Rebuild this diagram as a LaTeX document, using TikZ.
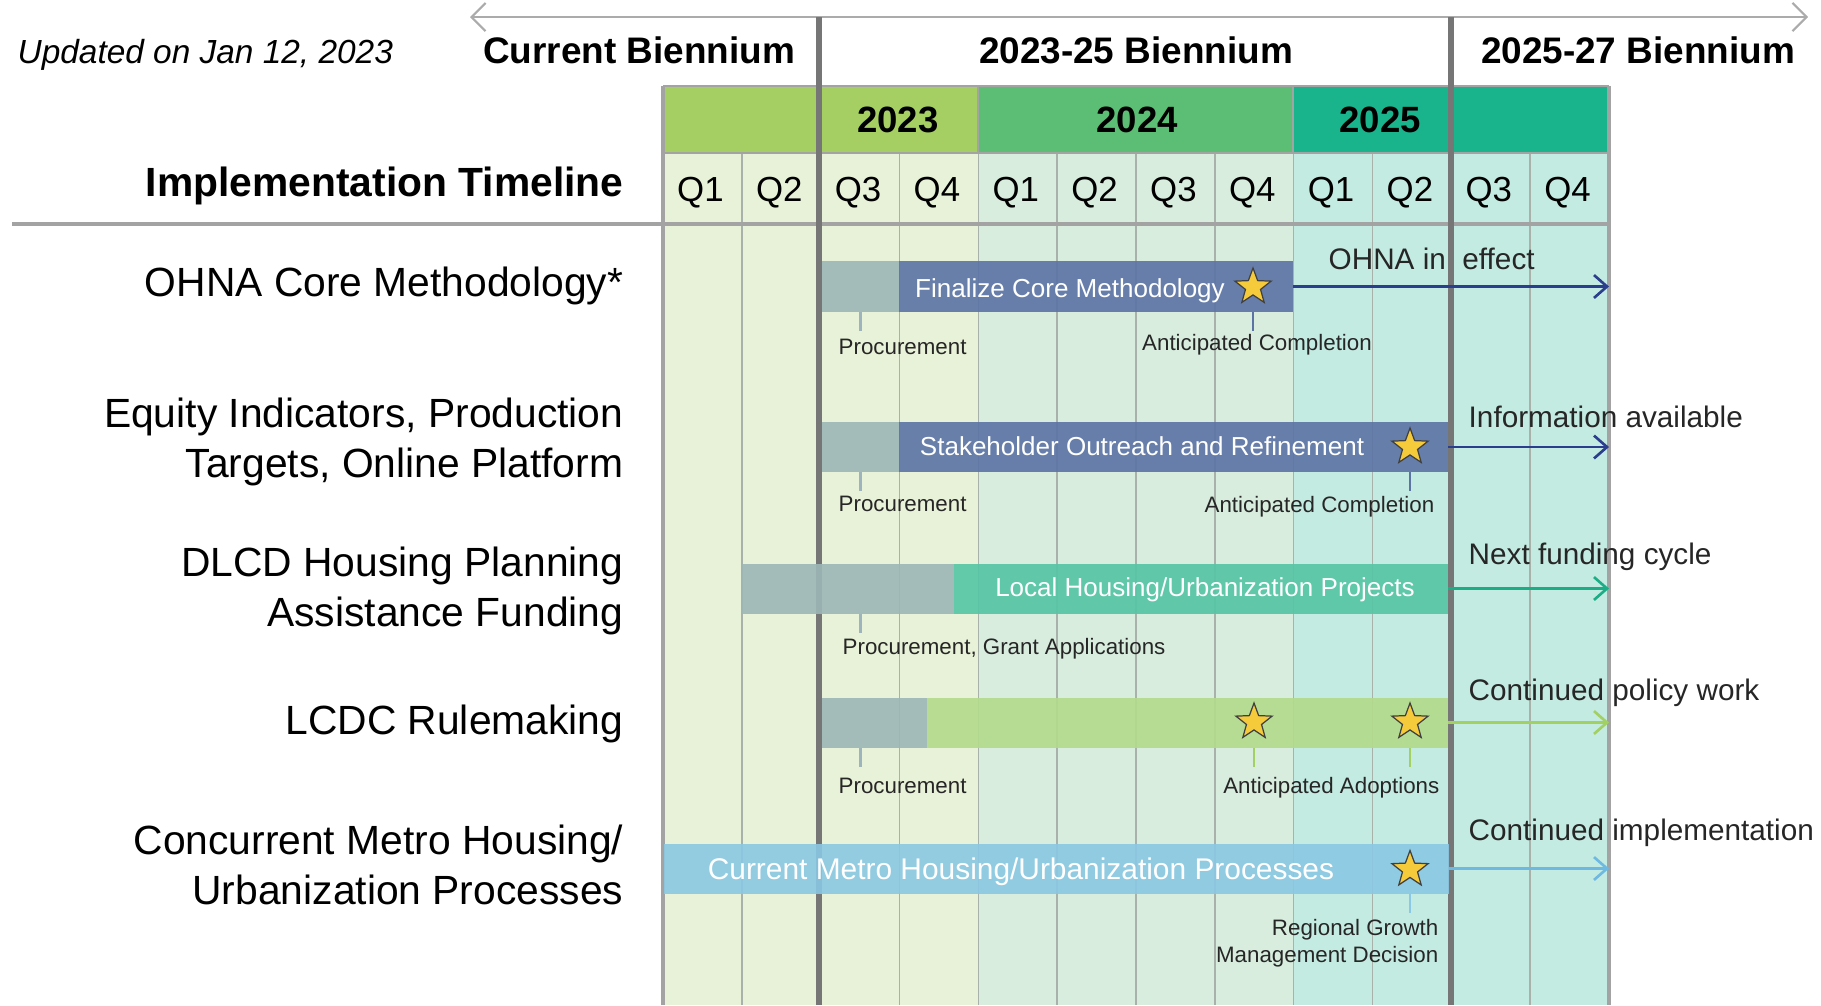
\documentclass[tikz,border=0pt]{standalone}
\usepackage{fontspec}
\setmainfont{Liberation Sans}
\usetikzlibrary{
  arrows.meta,
  positioning,
  shapes.geometric,
  calc
}
\usepackage{xcolor}
\definecolor{yearLight}{HTML}{A5CF63}
\definecolor{yearMid}{HTML}{5CBD74}
\definecolor{yearTeal}{HTML}{19B38C}
\definecolor{tintOne}{HTML}{E8F2D8}
\definecolor{tintTwo}{HTML}{D8EDDE}
\definecolor{tintThree}{HTML}{C4EBE1}
\definecolor{gridGrey}{HTML}{A8B2AA}
\definecolor{borderGrey}{HTML}{A3A3A3}
\definecolor{thickGrey}{HTML}{767676}
\definecolor{arrowGrey}{HTML}{ABABAB}
\definecolor{procGrey}{HTML}{9CB7B6}
\definecolor{procTick}{HTML}{9DB4BE}
\definecolor{barBlue}{HTML}{5B73A5}
\definecolor{barTeal}{HTML}{54C5A4}
\definecolor{barGreen}{HTML}{B3DA8A}
\definecolor{barSky}{HTML}{8AC8E3}
\definecolor{navyArrow}{HTML}{2B3E8E}
\definecolor{tealArrow}{HTML}{1BAE86}
\definecolor{greenArrow}{HTML}{A2D063}
\definecolor{skyArrow}{HTML}{6DB9E2}
\definecolor{starGold}{HTML}{F6CB3B}
\definecolor{textGrey}{HTML}{262626}
\tikzset{
  barbox/.style={
    anchor=west,
    inner sep=0pt,
    outer sep=0pt,
    minimum height=0.5cm,
    fill opacity=0.9
  },
  goldStar/.style={
    star,
    star points=5,
    star point ratio=2.4,
    fill=starGold,
    draw=black!75,
    line width=0.35pt,
    minimum size=0.38cm,
    inner sep=0pt
  }
}

\begin{document}
\begin{tikzpicture}[
    x=0.01cm, y=-0.01cm,
    >={Straight Barb[length=3.7pt,width=6.5pt]},
    rowlbl/.style={anchor=east, align=right, inner sep=0pt,
      font=\fontsize{11.6}{14.2}\selectfont},
    biennium/.style={inner sep=0pt, font=\bfseries\fontsize{10.5}{12}\selectfont},
    yearlbl/.style={inner sep=0pt, font=\bfseries\fontsize{10.4}{12}\selectfont},
    quarterlbl/.style={inner sep=0pt, font=\fontsize{9.9}{12}\selectfont},
    bartxt/.style={inner sep=0pt, text=white, font=\fontsize{7.4}{9}\selectfont},
    notelbl/.style={anchor=west, inner sep=0pt, text=textGrey,
      font=\fontsize{8.45}{10}\selectfont},
    smalllbl/.style={inner sep=0pt, text=textGrey,
      font=\fontsize{6.35}{7.7}\selectfont},
    tickln/.style={line width=0.6pt},
    carryon/.style={->, line width=0.75pt}
  ]
  \useasboundingbox (0,0) rectangle (1821,1005);

  % background columns and header
  \fill[tintOne] (663,153) rectangle (978,1005);
  \fill[tintTwo] (978,153) rectangle (1293,1005);
  \fill[tintThree] (1293,153) rectangle (1609,1005);
  \fill[yearLight] (663,86) rectangle (978,153);
  \fill[yearMid] (978,86) rectangle (1293,153);
  \fill[yearTeal] (1293,86) rectangle (1609,153);

  \foreach \i in {1,...,11}{
    \draw[gridGrey, line width=0.45pt] ({663+78.83*\i},153) -- ({663+78.83*\i},1005);
  }
  \draw[borderGrey, line width=0.7pt] (663,86) -- (1609,86);
  \draw[borderGrey, line width=0.7pt] (663,153) -- (1609,153);
  \draw[borderGrey, line width=0.7pt] (978,86) -- (978,153);
  \draw[borderGrey, line width=0.7pt] (1293,86) -- (1293,153);
  \draw[borderGrey, line width=0.9pt] (663,86) -- (663,1005);
  \draw[borderGrey, line width=0.9pt] (1609,86) -- (1609,1005);
  \draw[borderGrey, line width=0.9pt] (12,224) -- (1609,224);

  \coordinate (pastEnd) at (470,17);
  \coordinate (futureEnd) at (1808,17);
  \draw[{Straight Barb[length=4pt,width=8pt]}-{Straight Barb[length=4pt,width=8pt]},
    arrowGrey, line width=0.6pt] (pastEnd) -- (futureEnd);
  \draw[thickGrey, line width=1.75pt] (819,17) -- (819,1005);
  \draw[thickGrey, line width=1.75pt] (1451,17) -- (1451,1005);

  \node[anchor=west, inner sep=0pt, font=\itshape\fontsize{9.5}{11}\selectfont]
    (updated) at (17,55) {Updated on Jan 12, 2023};
  \node[biennium] (curB) at (639,50) {Current Biennium};
  \node[biennium] (midB) at (1136,50) {2023-25 Biennium};
  \node[biennium] (nextB) at (1638,50) {2025-27 Biennium};
  \node[rowlbl, font=\bfseries\fontsize{11.6}{14.2}\selectfont]
    (title) at (624,186) {Implementation Timeline};

  \node[yearlbl] (y2023) at (898,120) {2023};
  \node[yearlbl] (y2024) at (1137,120) {2024};
  \node[yearlbl] (y2025) at (1380,120) {2025};
  \foreach \q [count=\i from 0] in {Q1,Q2,Q3,Q4,Q1,Q2,Q3,Q4,Q1,Q2,Q3,Q4}{
    \node[quarterlbl] (q\i) at ({661+78.83*(\i+0.5)},192.5) {\q};
  }

  % row labels
  \node[rowlbl] (ohna) at (624,286) {OHNA Core Methodology*};
  \node[rowlbl] (equity) at (624,442) {Equity Indicators, Production\\Targets, Online Platform};
  \node[rowlbl] (dlcd) at (624,591) {DLCD Housing Planning\\Assistance Funding};
  \node[rowlbl] (lcdc) at (624,724) {LCDC Rulemaking};
  \node[rowlbl] (metro) at (624,865) {Concurrent Metro Housing/\\Urbanization Processes};

  % OHNA
  \node[barbox, fill=procGrey, minimum width=0.77cm] (ohnaProc) at (822,286.5) {};
  \node[barbox, fill=barBlue, minimum width=3.94cm] (ohnaBar) at (899,286.5) {};
  \node[bartxt] (ohnaTxt) at (1070,290.5) {Finalize Core Methodology};
  \node[goldStar] (ohnaStar) at (1253,287) {};
  \draw[tickln, procTick] (ohnaProc.south) -- ++(0,19);
  \draw[tickln, barBlue] (ohnaStar |- ohnaBar.south) -- ++(0,19);
  \node[smalllbl, anchor=west] (ohnaProcLbl) at (838,347) {Procurement};
  \node[smalllbl] (ohnaDoneLbl) at (1257,344.5) {Anticipated Completion};
  \coordinate (ohnaEnd) at (1609,286.5);
  \draw[carryon, navyArrow] (ohnaBar.east) -- (ohnaEnd);
  \node[notelbl] (ohnaNote) at (1328,259) {OHNA in\ \ effect};

  % Equity
  \node[barbox, fill=procGrey, minimum width=0.77cm] (eqProc) at (822,447) {};
  \node[barbox, fill=barBlue, minimum width=5.49cm] (eqBar) at (899,447) {};
  \node[bartxt] (eqTxt) at (1142,446.5) {Stakeholder Outreach and Refinement};
  \node[goldStar] (eqStar) at (1410,447) {};
  \draw[tickln, procTick] (eqProc.south) -- ++(0,19);
  \draw[tickln, barBlue] (eqStar |- eqBar.south) -- ++(0,19);
  \node[smalllbl, anchor=west] (eqProcLbl) at (838,504) {Procurement};
  \node[smalllbl, anchor=east] (eqDoneLbl) at (1435,506.5) {Anticipated Completion};
  \coordinate (eqEnd) at (1609,447);
  \draw[carryon, navyArrow] (eqBar.east) -- (eqEnd);
  \node[notelbl] (eqNote) at (1468,417) {Information available};

  % DLCD
  \node[barbox, fill=procGrey, minimum width=2.12cm] (dlcdProc) at (742,588.5) {};
  \node[barbox, fill=barTeal, minimum width=4.94cm] (dlcdBar) at (954,588.5) {};
  \node[bartxt] (dlcdTxt) at (1205,589.5) {Local Housing/Urbanization Projects};
  \draw[tickln, procTick] (dlcdProc.south -| ohnaProc.south) -- ++(0,19);
  \node[smalllbl, anchor=west] (dlcdProcLbl) at (842,649) {Procurement, Grant Applications};
  \coordinate (dlcdEnd) at (1609,588.5);
  \draw[carryon, tealArrow] (dlcdBar.east) -- (dlcdEnd);
  \node[notelbl] (dlcdNote) at (1468,557) {Next funding cycle};

  % LCDC
  \node[barbox, fill=procGrey, minimum width=1.05cm] (lcdcProc) at (822,722.5) {};
  \node[barbox, fill=barGreen, minimum width=5.21cm] (lcdcBar) at (927,722.5) {};
  \node[goldStar] (lcdcStarA) at (1254,722) {};
  \node[goldStar] (lcdcStarB) at (1410,722) {};
  \draw[tickln, procTick] (lcdcProc.south -| ohnaProc.south) -- ++(0,19);
  \draw[tickln, greenArrow] (lcdcStarA |- lcdcBar.south) -- ++(0,19);
  \draw[tickln, greenArrow] (lcdcStarB |- lcdcBar.south) -- ++(0,19);
  \node[smalllbl, anchor=west] (lcdcProcLbl) at (838,786) {Procurement};
  \node[smalllbl, anchor=east] (lcdcAdoptLbl) at (1440,787.5) {Anticipated Adoptions};
  \coordinate (lcdcEnd) at (1609,722.5);
  \draw[carryon, greenArrow] (lcdcBar.east) -- (lcdcEnd);
  \node[notelbl] (lcdcNote) at (1468,693) {Continued policy work};

  % Metro
  \node[barbox, fill=barSky, minimum width=7.85cm] (metroBar) at (664,868.5) {};
  \node[bartxt, font=\fontsize{8.5}{10}\selectfont] (metroTxt) at (1021,872) {Current Metro Housing/Urbanization Processes};
  \node[goldStar] (metroStar) at (1410,869.5) {};
  \draw[tickln, barSky] (metroStar |- metroBar.south) -- ++(0,19);
  \node[smalllbl, anchor=north east, align=right] (metroLbl) at (1439,919)
    {Regional Growth\\Management Decision};
  \coordinate (metroEnd) at (1609,868.5);
  \draw[carryon, skyArrow] (metroBar.east) -- (metroEnd);
  \node[notelbl] (metroNote) at (1468,833) {Continued implementation};
\end{tikzpicture}
\end{document}
